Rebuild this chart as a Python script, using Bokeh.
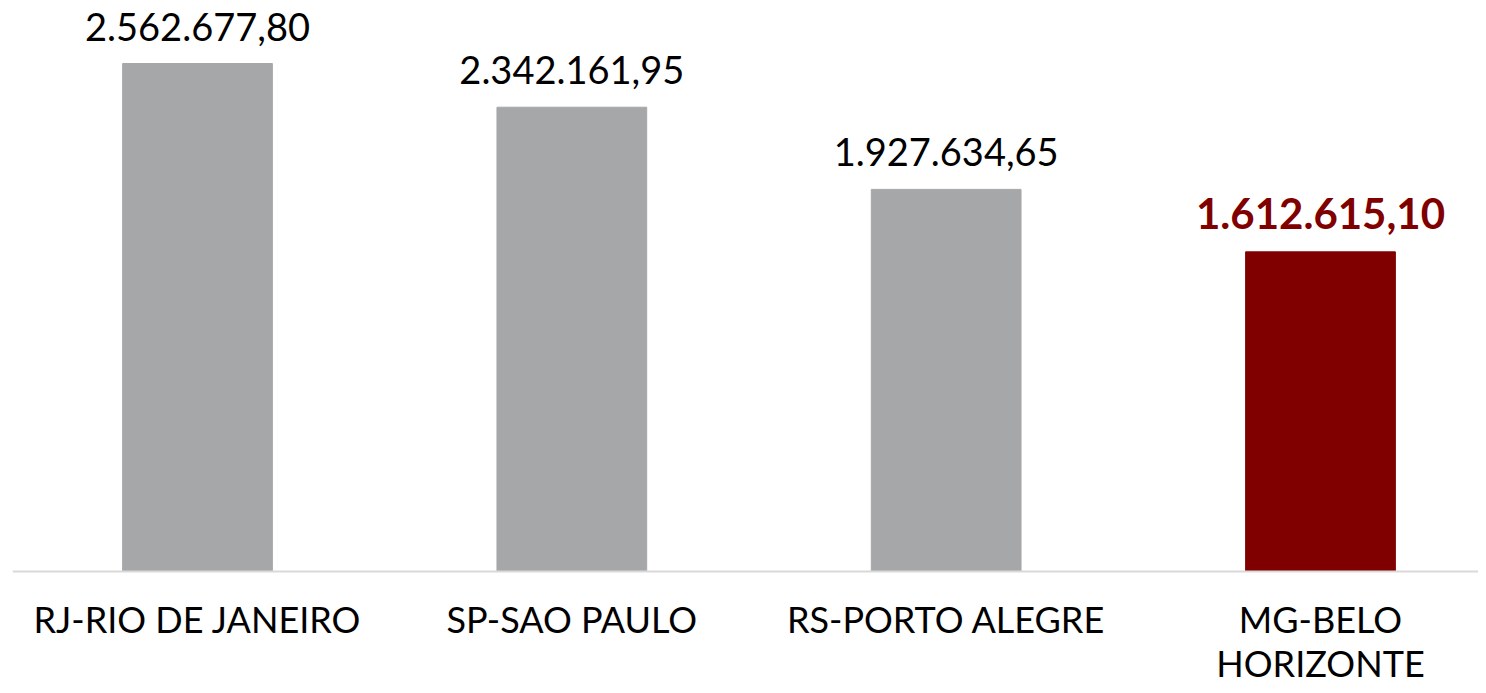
from bokeh.plotting import figure
from bokeh.models import ColumnDataSource, Range1d, Span
from bokeh.embed import file_html
from bokeh.resources import INLINE
from bokeh.core.properties import value

categories = ["RJ-RIO DE JANEIRO", "SP-SAO PAULO", "RS-PORTO ALEGRE", "MG-BELO\nHORIZONTE"]
values = [2562677.80, 2342161.95, 1927634.65, 1612615.10]
value_labels = ["2.562.677,80", "2.342.161,95", "1.927.634,65", "1.612.615,10"]
bar_colors = ["#A6A7A9", "#A6A7A9", "#A6A7A9", "#800000"]
label_colors = ["#000000", "#000000", "#000000", "#800000"]
label_styles = ["normal", "normal", "normal", "bold"]
label_sizes = ["38px", "38px", "38px", "42px"]

xs = list(range(len(categories)))
src = ColumnDataSource(dict(x=xs, top=values, label=value_labels, color=bar_colors,
                            lcolor=label_colors, lstyle=label_styles, lsize=label_sizes,
                            cat=categories, zero=[0] * len(xs)))

FONT = "Lato"
top_val = max(values)
px_per_val = 508 / top_val

p = figure(width=1478, height=685, output_backend="svg", toolbar_location=None,
           x_range=Range1d(-0.4942, 3.4221),
           y_range=Range1d(-114 / px_per_val, 571 / px_per_val),
           min_border_left=12, min_border_right=0, min_border_top=0, min_border_bottom=0)
p.outline_line_color = None
p.grid.grid_line_color = None
p.xaxis.visible = False
p.yaxis.visible = False

p.vbar(x="x", top="top", width=0.4, color="color", source=src)
p.text(x="x", y="top", text="label", text_color="lcolor", text_font_style="lstyle",
       text_font=value(FONT), text_font_size="lsize", text_align="center",
       text_baseline="bottom", y_offset=-23, source=src)

p.add_layout(Span(location=0, dimension="width", line_color="#D9D9D9", line_width=2))

p.text(x="x", y="zero", text="cat", text_color="#000000", text_font=value(FONT),
       text_font_size="36px", text_align="center", text_baseline="top",
       text_line_height=1.0, y_offset=25, source=src)

open("out.html", "w").write(file_html(p, INLINE))
